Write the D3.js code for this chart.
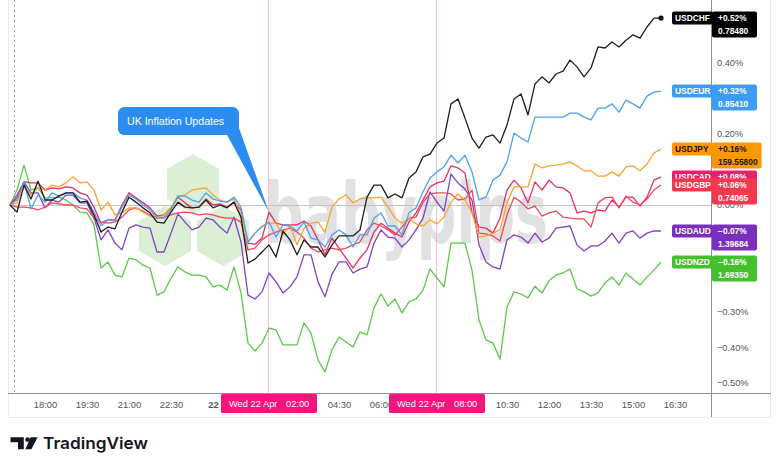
<!DOCTYPE html>
<html>
<head>
<meta charset="utf-8">
<script src="https://cdn.jsdelivr.net/npm/d3@7"></script>
<style>
  html, body { margin: 0; padding: 0; background: #fff; }
  svg { display: block; font-family: "Liberation Sans", Arial, sans-serif; }
</style>
</head>
<body>
<svg id="chart" width="780" height="471"></svg>
<script>
// 15 minute closes, % change since the start of the session (Tue 21 Apr 16:45)
const startTime = new Date(2026, 3, 21, 16, 45);
const stepMinutes = 15;

const usdchf = [0, -0.020, 0.056, 0.017, 0.067, 0.014, 0.014, 0.025, 0.034, 0.034,
  0.008, 0.011, -0.028, -0.076, -0.062, -0.067, -0.020, 0.022, 0.008, -0.008,
  -0.022, -0.048, -0.051, -0.020, 0.008, -0.006, -0.008, -0.006, 0.014, -0.008,
  0, -0.008, 0.008, -0.034, -0.163, -0.152, -0.132, -0.112, -0.146, -0.073,
  -0.098, -0.140, -0.098, -0.118, -0.118, -0.146, -0.112, -0.087, -0.087, -0.087,
  -0.070, 0.022, 0.056, 0.056, 0.020, 0.031, 0.020, 0.076, 0.093, 0.135,
  0.143, 0.174, 0.188, 0.284, 0.298, 0.244, 0.188, 0.160, 0.191, 0.197,
  0.174, 0.225, 0.298, 0.312, 0.253, 0.340, 0.360, 0.343, 0.368, 0.376,
  0.407, 0.388, 0.360, 0.385, 0.444, 0.441, 0.458, 0.444, 0.463, 0.478,
  0.469, 0.500, 0.525, 0.525];

const usdeur = [0, 0.014, 0.065, -0.011, 0.028, 0.008, 0.034, 0.025, 0.034, 0.034,
  0.020, 0.014, -0.020, -0.059, -0.042, -0.045, -0.006, 0.028, 0.017, 0,
  -0.014, -0.037, -0.037, -0.014, 0.025, 0.025, 0.014, 0.008, 0.034, 0.017,
  0.011, 0.008, 0.022, -0.006, -0.104, -0.079, -0.062, -0.048, -0.090, -0.056,
  -0.059, -0.073, -0.048, -0.093, -0.098, -0.118, -0.084, -0.070, -0.084, -0.118,
  -0.084, -0.084, -0.037, -0.022, -0.059, -0.059, -0.084, -0.022, -0.008, 0.037,
  0.076, 0.093, 0.107, 0.140, 0.118, 0.140, 0.093, 0.014, 0.022, 0.070,
  0.084, 0.121, 0.202, 0.188, 0.177, 0.247, 0.247, 0.247, 0.247, 0.247,
  0.258, 0.258, 0.247, 0.239, 0.272, 0.272, 0.284, 0.261, 0.295, 0.284,
  0.272, 0.306, 0.317, 0.320];

const usdjpy = [0, 0.006, 0.051, 0.028, 0.048, 0.042, 0.056, 0.051, 0.062, 0.079,
  0.062, 0.065, 0.042, -0.014, 0.008, -0.028, -0.022, -0.008, -0.008, -0.020,
  -0.031, -0.037, -0.028, -0.006, 0.025, 0.028, 0.042, 0.045, 0.048, 0.028,
  0.014, 0.008, 0.017, -0.028, -0.104, -0.079, -0.059, -0.051, -0.051, -0.084,
  -0.056, -0.112, -0.065, -0.051, -0.048, -0.076, -0.006, 0.017, 0.028, 0.006,
  0.017, 0.020, 0.020, 0.022, -0.006, -0.037, -0.051, -0.037, -0.053, -0.059,
  -0.042, -0.053, -0.034, 0.008, 0.031, 0.014, -0.022, -0.090, -0.087, -0.079,
  -0.070, 0.006, 0.051, 0.051, 0.051, 0.115, 0.104, 0.110, 0.112, 0.115,
  0.121, 0.110, 0.096, 0.096, 0.081, 0.081, 0.093, 0.081, 0.107, 0.110,
  0.096, 0.115, 0.146, 0.157];

const usdcad = [0, 0.028, 0.065, 0.062, 0.062, 0.042, 0.048, 0.045, 0.051, 0.048,
  0.034, 0.028, -0.006, -0.051, -0.042, -0.042, 0, 0.034, 0.020, 0.006,
  -0.008, -0.031, -0.028, -0.008, 0.022, 0.006, -0.008, -0.006, 0.017, 0,
  0.003, -0.006, 0.008, -0.014, -0.107, -0.110, -0.093, -0.020, -0.051, -0.056,
  -0.056, -0.056, -0.045, -0.059, -0.098, -0.140, -0.093, -0.121, -0.149, -0.177,
  -0.149, -0.126, -0.076, -0.051, -0.065, -0.079, -0.090, -0.048, -0.022, 0.014,
  0.051, 0.062, 0.067, 0.110, 0.104, 0.090, -0.022, -0.062, -0.065, -0.079,
  -0.037, 0.042, 0.070, 0.048, 0.006, 0.065, 0.042, 0.070, 0.051, 0.048,
  0.034, -0.022, -0.017, -0.022, -0.014, -0.017, 0.014, -0.006, 0.022, 0.022,
  -0.003, 0.022, 0.070, 0.079];

const usdgbp = [0, -0.006, -0.006, -0.008, -0.014, -0.006, 0.006, 0.003, 0, 0,
  -0.008, -0.011, -0.037, -0.048, -0.051, -0.048, -0.034, -0.014, -0.008, -0.017,
  -0.028, -0.037, -0.034, -0.028, -0.022, -0.020, -0.022, -0.028, -0.025, -0.028,
  -0.034, -0.037, -0.037, -0.048, -0.126, -0.121, -0.098, -0.084, -0.076, -0.070,
  -0.065, -0.076, -0.093, -0.121, -0.132, -0.126, -0.121, -0.126, -0.121, -0.112,
  -0.104, -0.070, -0.051, -0.059, -0.070, -0.084, -0.062, -0.037, -0.034, 0.008,
  0.031, 0.034, 0.034, 0.031, 0.014, 0.017, 0.042, -0.079, -0.081, -0.087,
  -0.101, -0.028, 0.022, 0.008, -0.011, -0.003, -0.031, -0.022, -0.017, -0.034,
  -0.037, -0.039, -0.039, -0.062, 0.006, 0.020, 0.022, -0.008, 0.025, 0.008,
  0, 0.017, 0.042, 0.056];

const usdaud = [0, 0.020, 0.065, 0.034, 0.034, -0.008, 0.014, 0.008, 0.028, 0.028,
  0.006, 0.006, -0.037, -0.098, -0.070, -0.107, -0.126, -0.065, -0.056, -0.062,
  -0.065, -0.132, -0.132, -0.079, -0.025, -0.048, -0.070, -0.062, -0.037, -0.042,
  -0.062, -0.079, -0.034, -0.104, -0.253, -0.264, -0.244, -0.191, -0.216, -0.247,
  -0.230, -0.202, -0.140, -0.140, -0.216, -0.258, -0.194, -0.160, -0.160, -0.191,
  -0.180, -0.174, -0.107, -0.070, -0.090, -0.093, -0.118, -0.098, -0.070, -0.037,
  0.037, 0.008, -0.017, 0.087, 0.062, 0.045, 0.014, -0.112, -0.160, -0.174,
  -0.180, -0.098, -0.084, -0.090, -0.107, -0.079, -0.104, -0.093, -0.065, -0.062,
  -0.059, -0.112, -0.129, -0.115, -0.115, -0.101, -0.079, -0.107, -0.079, -0.073,
  -0.093, -0.079, -0.073, -0.073];

const usdnzd = [0, 0.042, 0.112, 0.042, 0.048, 0.020, 0.020, 0.022, 0.014, 0,
  -0.020, -0.022, -0.056, -0.177, -0.160, -0.197, -0.202, -0.149, -0.154, -0.169,
  -0.177, -0.253, -0.244, -0.205, -0.174, -0.188, -0.197, -0.197, -0.202, -0.230,
  -0.225, -0.239, -0.174, -0.247, -0.388, -0.410, -0.388, -0.346, -0.351, -0.393,
  -0.393, -0.393, -0.331, -0.360, -0.435, -0.469, -0.407, -0.371, -0.385, -0.399,
  -0.357, -0.365, -0.289, -0.250, -0.284, -0.264, -0.303, -0.272, -0.264, -0.239,
  -0.180, -0.205, -0.230, -0.107, -0.107, -0.107, -0.183, -0.323, -0.379, -0.388,
  -0.433, -0.287, -0.244, -0.250, -0.261, -0.228, -0.247, -0.213, -0.197, -0.191,
  -0.180, -0.236, -0.244, -0.256, -0.247, -0.219, -0.202, -0.225, -0.191, -0.208,
  -0.225, -0.202, -0.183, -0.160];

// drawn bottom to top
const seriesNames = ["USDNZD", "USDAUD", "USDCAD", "USDGBP", "USDJPY", "USDEUR", "USDCHF"];
const seriesValues = [usdnzd, usdaud, usdcad, usdgbp, usdjpy, usdeur, usdchf];
const changeLabels = ["\u22120.16%", "\u22120.07%", "+0.08%", "+0.06%", "+0.16%", "+0.32%", "+0.52%"];
const priceLabels = ["1.69350", "1.39684", "1.38210", "0.74065", "159.55800", "0.85410", "0.78480"];

// only the ticks that are not covered by the value badges
const yTicks = [-0.5, -0.4, -0.3, 0, 0.2, 0.4];
const xTickTimes = ["2026-04-21T18:00", "2026-04-21T19:30", "2026-04-21T21:00", "2026-04-21T22:30",
  "2026-04-22T00:00", "2026-04-22T04:30", "2026-04-22T06:00", "2026-04-22T10:30",
  "2026-04-22T12:00", "2026-04-22T13:30", "2026-04-22T15:00", "2026-04-22T16:30"];
const markerTimes = ["2026-04-22T02:00", "2026-04-22T08:00"];
const sessionBreak = "2026-04-21T16:53";
const calloutText = "UK Inflation Updates";
const calloutTime = "2026-04-22T02:00";
const calloutSeries = "USDCAD";

// styles
const colors = {
  USDCHF: "#1e1e1e", USDEUR: "#4aa3f4", USDJPY: "#ffa22b", USDCAD: "#ea2f62",
  USDGBP: "#f5475a", USDAUD: "#8340c8", USDNZD: "#5cc94a"
};
const badgeColors = {
  USDCHF: "#000000", USDEUR: "#3d9cf5", USDJPY: "#ff9800", USDCAD: "#e8226a",
  USDGBP: "#f23a4e", USDAUD: "#7a2fbd", USDNZD: "#44c02b"
};
const badgeText = { USDJPY: "#131722" };

const W = 780, H = 471;
const plot = { left: 8, right: 711, top: 0, bottom: 393 };
const axisBottomEdge = 417, frameRight = 770;

const parse = d3.timeParse("%Y-%m-%dT%H:%M");
const times = usdchf.map((d, i) => d3.timeMinute.offset(startTime, stepMinutes * i));

const x = d3.scaleTime().domain([times[0], times[times.length - 1]]).range([10, 661]);
const y = d3.scaleLinear().domain([-0.5, 0.5]).range([383, 27]);

const svg = d3.select("#chart");

svg.append("rect").attr("width", W).attr("height", H).attr("fill", "#fff");

// frame
svg.append("rect")
  .attr("x", plot.left + 0.5).attr("y", -1)
  .attr("width", frameRight - plot.left).attr("height", axisBottomEdge + 1.5)
  .attr("fill", "none").attr("stroke", "#ececec");

// babypips watermark
const wm = svg.append("g").attr("class", "watermark");
const hex = (cx, cy, r) => d3.range(6).map(k => {
  const a = Math.PI / 3 * k - Math.PI / 2;
  return [cx + r * Math.cos(a), cy + r * Math.sin(a)];
});
[[193, 184], [165, 236], [223, 236]].forEach(c => {
  wm.append("polygon").attr("points", hex(c[0], c[1], 30).join(" ")).attr("fill", "#dbefd4");
});
wm.append("text")
  .attr("x", 264).attr("y", 243)
  .attr("textLength", 284).attr("lengthAdjust", "spacingAndGlyphs")
  .attr("font-family", "'DejaVu Sans', sans-serif").attr("font-weight", "bold")
  .attr("font-size", 84).attr("fill", "#e0e1e3")
  .text("babypips");

svg.append("clipPath").attr("id", "plotclip")
  .append("rect").attr("x", plot.left + 1).attr("y", plot.top)
  .attr("width", plot.right - plot.left - 1).attr("height", plot.bottom - plot.top);

const g = svg.append("g").attr("clip-path", "url(#plotclip)");

// zero line, session break, marker lines
g.append("line")
  .attr("x1", plot.left).attr("x2", plot.right)
  .attr("y1", Math.round(y(0)) + 0.5).attr("y2", Math.round(y(0)) + 0.5)
  .attr("stroke", "#c4c4c4");

g.append("line")
  .attr("x1", Math.round(x(parse(sessionBreak))) + 0.5).attr("x2", Math.round(x(parse(sessionBreak))) + 0.5)
  .attr("y1", plot.top).attr("y2", plot.bottom)
  .attr("stroke", "#9a9a9a").attr("stroke-dasharray", "2,3");

g.selectAll(".marker").data(markerTimes).join("line")
  .attr("class", "marker")
  .attr("x1", d => Math.round(x(parse(d))) - 0.5).attr("x2", d => Math.round(x(parse(d))) - 0.5)
  .attr("y1", plot.top).attr("y2", plot.bottom)
  .attr("stroke", "#ffb6d6");

// lines
const line = d3.line()
  .x((d, i) => x(times[i]))
  .y(d => y(d));

g.selectAll(".series").data(seriesNames).join("path")
  .attr("class", "series")
  .attr("d", (d, i) => line(seriesValues[i]))
  .attr("fill", "none")
  .attr("stroke", d => colors[d])
  .attr("stroke-width", 1.3)
  .attr("stroke-linejoin", "round");

// end dot on the main symbol
g.append("circle")
  .attr("cx", x(times[times.length - 1])).attr("cy", y(usdchf[usdchf.length - 1]))
  .attr("r", 2.6).attr("fill", "#111");

// callout
const ci = seriesNames.indexOf(calloutSeries);
const cIdx = d3.bisector(d => d).left(times, parse(calloutTime));
const tipX = x(times[cIdx]), tipY = y(seriesValues[ci][cIdx]);
const bx = tipX - 151, by = tipY - 105;
const callout = svg.append("g").attr("class", "callout");
callout.append("polygon")
  .attr("points", [[bx + 108, by + 26], [bx + 121, by + 21], [tipX, tipY]].join(" "))
  .attr("fill", "#2b8df1");
callout.append("rect")
  .attr("x", bx).attr("y", by).attr("width", 121).attr("height", 28).attr("rx", 6)
  .attr("fill", "#2b8df1");
callout.append("text")
  .attr("x", bx + 9).attr("y", by + 18)
  .attr("font-size", 10.6).attr("fill", "#fff")
  .text(calloutText);

// axes lines
svg.append("line")
  .attr("x1", plot.right + 0.5).attr("x2", plot.right + 0.5)
  .attr("y1", 0).attr("y2", axisBottomEdge)
  .attr("stroke", "#8e9097");
svg.append("line")
  .attr("x1", plot.left).attr("x2", frameRight + 1)
  .attr("y1", plot.bottom + 0.5).attr("y2", plot.bottom + 0.5)
  .attr("stroke", "#8e9097");

// right price axis
const yAxis = d3.axisRight(y)
  .tickValues(yTicks)
  .tickSize(0).tickPadding(6)
  .tickFormat(d => d3.format(".2f")(d) + "%");
svg.append("g")
  .attr("transform", `translate(${plot.right},0)`)
  .call(yAxis)
  .call(a => a.select(".domain").remove())
  .selectAll("text")
  .attr("font-family", "'Liberation Sans', Arial, sans-serif")
  .attr("font-size", 9.2).attr("fill", "#50535c");

// bottom time axis
const fmtTime = d3.timeFormat("%H:%M"), fmtDay = d3.timeFormat("%-d");
const isDay = d => d.getHours() === 0 && d.getMinutes() === 0;
const xAxis = d3.axisBottom(x)
  .tickValues(xTickTimes.map(parse))
  .tickSize(0).tickPadding(8)
  .tickFormat(d => isDay(d) ? fmtDay(d) : fmtTime(d));
svg.append("g")
  .attr("transform", `translate(0,${plot.bottom})`)
  .call(xAxis)
  .call(a => a.select(".domain").remove())
  .selectAll("text")
  .attr("font-family", "'Liberation Sans', Arial, sans-serif")
  .attr("font-size", 9.4).attr("fill", "#50535c")
  .attr("font-weight", d => isDay(d) ? "bold" : null);

// highlighted time badges
const fmtDate = d3.timeFormat("%a %-d %b");
const mk = svg.selectAll(".mbadge").data(markerTimes).join("g")
  .attr("class", "mbadge")
  .attr("transform", d => `translate(${Math.round(x(parse(d)))},394)`);
mk.append("rect").attr("x", -48).attr("y", 0).attr("width", 96).attr("height", 19)
  .attr("rx", 1.5).attr("fill", "#f5137c");
mk.append("text").attr("x", -40).attr("y", 13)
  .attr("font-size", 9.3).attr("fill", "#fff")
  .text(d => fmtDate(parse(d)));
mk.append("text").attr("x", 17).attr("y", 13)
  .attr("font-size", 9.3).attr("fill", "#fff")
  .text(d => fmtTime(parse(d)));

// last value badges
const badgeOrder = ["USDCHF", "USDEUR", "USDJPY", "USDCAD", "USDGBP", "USDAUD", "USDNZD"];
badgeOrder.forEach(name => {
  const i = seriesNames.indexOf(name);
  const vals = seriesValues[i];
  const yy = Math.round(y(vals[vals.length - 1]));
  const fill = badgeColors[name], tc = badgeText[name] || "#fff";
  const b = svg.append("g").attr("class", "badge").attr("font-weight", "bold");
  b.append("rect").attr("x", plot.right - 39).attr("y", yy - 6.5)
    .attr("width", 41).attr("height", 13).attr("rx", 2).attr("fill", fill);
  const t1 = b.append("text").attr("x", plot.right + 7).attr("y", yy + 3)
    .attr("font-size", 8.4).attr("fill", tc).text(changeLabels[i]);
  const t2 = b.append("text").attr("x", plot.right + 7).attr("y", yy + 16)
    .attr("font-size", 8.4).attr("fill", tc).text(priceLabels[i]);
  const tw = Math.max(t1.node().getComputedTextLength(), t2.node().getComputedTextLength());
  b.insert("rect", "text").attr("x", plot.right + 1).attr("y", yy - 6.5)
    .attr("width", Math.max(45, tw + 10)).attr("height", 26).attr("rx", 2).attr("fill", fill);
  b.append("text").attr("x", plot.right - 36).attr("y", yy + 3)
    .attr("font-size", 8.4).attr("fill", tc).text(name);
});

// TradingView logo
const logo = svg.append("g").attr("class", "logo").attr("fill", "#131722");
logo.append("path").attr("d", "M10.5,437.3H23.8V449.3H18V442.2H10.5Z");
logo.append("circle").attr("cx", 27.6).attr("cy", 439.6).attr("r", 2.3);
logo.append("path").attr("d", "M30.6,437.3H37.6L31.4,449.3H25.4Z");
logo.append("text")
  .attr("x", 43).attr("y", 449.3)
  .attr("textLength", 105).attr("lengthAdjust", "spacingAndGlyphs")
  .attr("font-family", "Inter, 'Noto Sans', sans-serif").attr("font-weight", 600)
  .attr("font-size", 16.5)
  .text("TradingView");
</script>
</body>
</html>
